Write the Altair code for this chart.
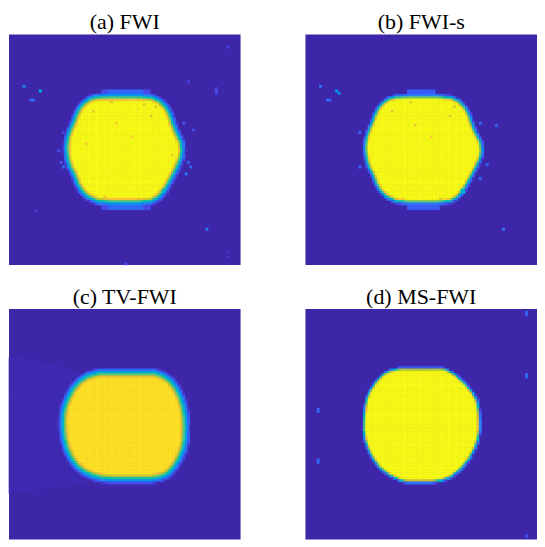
import numpy as np
import pandas as pd
import altair as alt

# ---------------- data (grid units, 100 x 100 cells) ----------------
TITLES = ["(a) FWI", "(b) FWI-s", "(c) TV-FWI", "(d) MS-FWI"]

# parula colour map stops
CMAP_DOMAIN = [0, 1 / 7, 2 / 7, 3 / 7, 4 / 7, 5 / 7, 6 / 7, 1]
CMAP_RANGE = ["#3e26a8", "#4852f4", "#2d87f7", "#12b1d6", "#37c897", "#abc739", "#fec338", "#f9fb15"]
BG = "#3e26a8"

# blob outlines (x = column, y = row from the top)
A_POLY = [(38.0, 27.3), (35.0, 28.2), (32.5, 30.0), (30.7, 32.1), (29.2, 35.0), (28.2, 38.0), (26.5, 41.9),
          (25.4, 45.5), (25.0, 49.5), (25.4, 53.5), (26.5, 57.4), (28.4, 61.0), (29.8, 64.8), (31.5, 67.8),
          (34.0, 70.3), (38.4, 72.4), (44.0, 72.9), (56.0, 72.9), (61.5, 72.4), (64.8, 70.5), (67.3, 67.5),
          (69.0, 64.5), (70.6, 61.6), (72.6, 57.8), (74.3, 53.5), (74.8, 50.3), (74.3, 46.8), (72.4, 42.8),
          (70.8, 38.8), (69.6, 35.0), (67.8, 31.6), (65.3, 29.2), (62.0, 27.6), (56.0, 27.1), (44.0, 27.1)]
B_POLY = [(39.0, 27.3), (36.0, 28.2), (33.5, 30.0), (31.7, 32.1), (30.2, 35.0), (29.2, 38.0), (27.5, 41.9),
          (26.4, 45.5), (26.0, 49.5), (26.4, 53.5), (27.5, 57.4), (29.4, 61.0), (30.8, 64.8), (32.5, 67.8),
          (35.0, 70.3), (39.4, 72.4), (45.0, 72.9), (57.0, 72.9), (62.5, 72.4), (65.8, 70.5), (68.3, 67.5),
          (70.0, 64.5), (71.6, 61.6), (73.6, 57.8), (75.6, 53.5), (76.1, 50.3), (75.6, 46.8), (73.4, 42.8),
          (71.8, 38.8), (70.6, 35.0), (68.8, 31.6), (66.3, 29.2), (63.0, 27.6), (57.0, 27.1), (45.0, 27.1)]
C_POLY = [(39.0, 27.8), (34.0, 29.2), (30.7, 31.4), (27.8, 34.6), (25.8, 38.4), (24.3, 42.0), (23.6, 45.5),
          (23.4, 49.0), (23.5, 52.6), (24.0, 57.0), (25.1, 61.1), (27.0, 65.0), (29.3, 68.2), (32.5, 70.8),
          (36.3, 72.5), (40.5, 73.6), (44.7, 73.9), (61.5, 73.9), (65.5, 73.1), (68.5, 71.8), (71.2, 68.9),
          (73.4, 65.4), (75.2, 61.2), (76.1, 56.9), (76.3, 52.0), (76.1, 46.9), (75.4, 42.5), (74.1, 38.4),
          (72.3, 34.6), (69.9, 31.4), (66.6, 29.1), (62.9, 27.8)]
D_POLY = [(40.8, 26.1), (36.8, 27.0), (33.8, 28.5), (30.6, 31.8), (28.1, 35.6), (26.6, 39.2), (26.0, 42.7),
          (25.4, 47.5), (25.3, 52.6), (26.0, 57.0), (27.4, 61.1), (29.5, 65.2), (32.3, 68.9), (36.2, 72.0),
          (40.8, 74.2), (43.6, 75.0), (55.0, 75.0), (59.5, 74.2), (63.4, 72.5), (67.3, 69.2), (70.5, 65.4),
          (72.8, 61.2), (74.4, 56.9), (75.1, 52.6), (75.1, 48.4), (74.8, 44.0), (74.0, 39.9), (71.8, 36.0),
          (69.1, 32.8), (65.0, 29.0), (60.6, 26.4), (59.2, 26.1)]

# blob interior value and width of its edge
A_TOP, A_EDGE = 1.0, 3.8
B_TOP, B_EDGE = 1.0, 2.6
C_TOP, C_EDGE = 0.94, 4.5
D_TOP, D_EDGE = 1.0, 1.8

# faint lighter wedge left of the blob in (c)
C_SHADOW = [(0, 20.7), (12, 22.3), (24, 25.5), (34, 29.0), (40, 74.0), (28, 76.0), (14, 78.2), (0, 79.6)]
C_SHADOW_V = 0.02

# blue bands above / below the blob: (col0, col1, row0, row1, value)
A_BANDS = [(40, 61, 24, 27, 0.12), (43, 58, 24, 27, 0.2), (40, 61, 74, 76, 0.13), (43, 58, 74, 76, 0.21)]
B_BANDS = [(44, 56, 24, 27, 0.17), (44, 58, 73, 76, 0.17)]

# single cells: (col, row, value)
A_DOTS = [(6, 22, 0.3), (13, 24, 0.45), (9, 28, 0.2), (10, 28, 0.2), (94, 5, 0.1), (89, 23, 0.12),
          (89, 24, 0.12), (89, 25, 0.12), (77, 20, 0.1), (85, 84, 0.25), (50, 99, 0.12), (94, 94, 0.06),
          (94, 96, 0.06), (11, 76, 0.08), (21, 50, 0.15), (23, 42, 0.12), (22, 55, 0.15), (23, 57, 0.2),
          (75, 38, 0.15), (77, 55, 0.2), (78, 57, 0.2), (76, 60, 0.25), (79, 41, 0.12),
          (46, 38, 0.85), (61, 35, 0.82), (36, 33, 0.8), (53, 44, 0.86), (66, 67, 0.5), (67, 68, 0.45),
          (65, 69, 0.55), (58, 30, 0.8), (63, 31, 0.75), (41, 70, 0.85), (56, 71, 0.8), (33, 47, 0.85),
          (44, 29, 0.82), (70, 52, 0.85)]
B_DOTS = [(6, 22, 0.25), (13, 24, 0.35), (14, 25, 0.3), (9, 28, 0.2), (10, 28, 0.2), (85, 84, 0.25),
          (82, 39, 0.2), (23, 42, 0.2), (23, 57, 0.2), (75, 38, 0.2), (78, 56, 0.2), (75, 62, 0.2),
          (47, 39, 0.85), (62, 35, 0.82), (37, 33, 0.8), (54, 44, 0.86), (67, 67, 0.5), (68, 68, 0.45),
          (64, 31, 0.75), (42, 71, 0.85), (58, 71, 0.8), (45, 29, 0.82)]
C_DOTS = []
D_DOTS = [(95, 1, 0.2), (95, 2, 0.2), (95, 28, 0.22), (95, 29, 0.22), (5, 43, 0.2), (5, 44, 0.2),
          (5, 65, 0.2), (5, 66, 0.2), (95, 98, 0.15)]

# ---------------- build the cell tables ----------------
N = 100
cc, rr = np.meshgrid(np.arange(N), np.arange(N))
px, py = cc + 0.5, rr + 0.5


def signed_dist(poly):
    P = np.array(poly, float)
    Q = np.roll(P, -1, axis=0)
    dmin = np.full(px.shape, np.inf)
    inside = np.zeros(px.shape, bool)
    for (x1, y1), (x2, y2) in zip(P, Q):
        dx, dy = x2 - x1, y2 - y1
        L = dx * dx + dy * dy
        t = np.clip(((px - x1) * dx + (py - y1) * dy) / L, 0, 1)
        d = np.hypot(px - (x1 + t * dx), py - (y1 + t * dy))
        dmin = np.minimum(dmin, d)
        if dy != 0:
            cond = (y1 > py) != (y2 > py)
            xint = x1 + (py - y1) * dx / dy
            inside ^= cond & (px < xint)
    return np.where(inside, dmin, -dmin)


def grid(poly, top, edge, bands=(), dots=(), shadow=None, shadow_v=0.0):
    v = top * np.clip(0.5 + signed_dist(poly) / edge, 0, 1)
    if shadow is not None:
        v = np.where(signed_dist(shadow) > 0, np.maximum(v, shadow_v), v)
    for c0, c1, r0, r1, val in bands:
        v[r0:r1, c0:c1] = np.maximum(v[r0:r1, c0:c1], val)
    for c, r, val in dots:
        v[r, c] = val
    m = v > 0.005
    return pd.DataFrame({"c": cc[m], "r": rr[m], "c2": cc[m] + 1, "r2": rr[m] + 1, "v": v[m]})


tables = [
    grid(A_POLY, A_TOP, A_EDGE, A_BANDS, A_DOTS),
    grid(B_POLY, B_TOP, B_EDGE, B_BANDS, B_DOTS),
    grid(C_POLY, C_TOP, C_EDGE, (), C_DOTS, C_SHADOW, C_SHADOW_V),
    grid(D_POLY, D_TOP, D_EDGE, (), D_DOTS),
]

cscale = alt.Scale(domain=CMAP_DOMAIN, range=CMAP_RANGE, clamp=True)


def panel(df, title, w, h):
    return alt.Chart(df).mark_rect(strokeWidth=0.6).encode(
        x=alt.X("c:Q", scale=alt.Scale(domain=[0, N], nice=False, zero=False), axis=None),
        x2="c2:Q",
        y=alt.Y("r:Q", scale=alt.Scale(domain=[N, 0], nice=False, zero=False), axis=None),
        y2="r2:Q",
        color=alt.Color("v:Q", scale=cscale, legend=None),
        stroke=alt.Stroke("v:Q", scale=cscale, legend=None),
    ).properties(
        width=w, height=h,
        title=alt.TitleParams(title, font="Liberation Serif", fontSize=22, fontWeight="normal",
                              color="black", offset=0),
    )


row1 = alt.hconcat(panel(tables[0], TITLES[0], 232, 231), panel(tables[1], TITLES[1], 232, 231), spacing=65)
row2 = alt.hconcat(panel(tables[2], TITLES[2], 232, 231), panel(tables[3], TITLES[3], 232, 231), spacing=65)

chart = alt.vconcat(row1, row2, spacing=20).properties(
    padding={"top": 3, "left": 0, "right": 0, "bottom": 0}, background="white"
).configure_view(fill=BG, strokeWidth=0)

chart.save("out.html", embed_options={"renderer": "svg", "actions": False})
